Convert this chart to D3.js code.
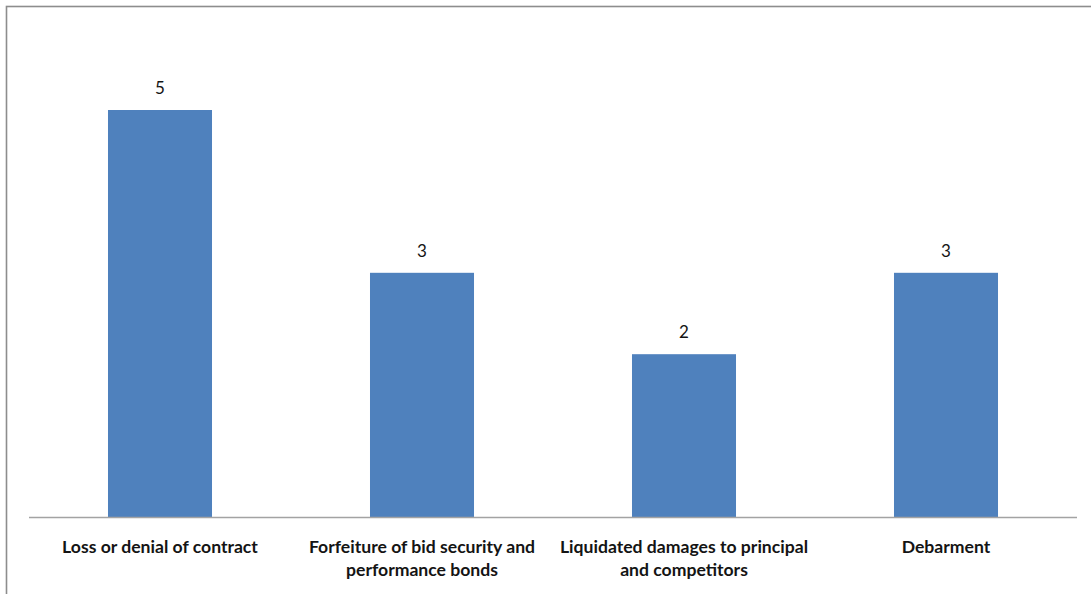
<!DOCTYPE html>
<html>
<head>
<meta charset="utf-8">
<script src="https://cdn.jsdelivr.net/npm/d3@7"></script>
<style>
  html, body { margin: 0; padding: 0; background: #fff; }
  svg { display: block; }
  .lbl { font-family: Lato, "Open Sans", sans-serif; fill: #141414; }
</style>
</head>
<body>
<svg id="chart" width="1091" height="594"></svg>
<script>
// Penalties cited, by type
const categories = [
  "Loss or denial of contract",
  "Forfeiture of bid security and performance bonds",
  "Liquidated damages to principal and competitors",
  "Debarment"
];
const counts = [5, 3, 2, 3];
const yMax = 6;

const W = 1091, H = 594;
const margin = { top: 29, right: 14, bottom: 77, left: 29 };
const svg = d3.select("#chart");

// outer frame (only top and left edges fall inside the window)
svg.append("rect")
  .attr("x", 6.5).attr("y", 6.5)
  .attr("width", W + 20).attr("height", H + 20)
  .attr("fill", "none")
  .attr("stroke", "#8d8d8d")
  .attr("stroke-width", 1.6);

const x = d3.scaleBand()
  .domain(categories)
  .range([margin.left, W - margin.right])
  .paddingInner(0.603)
  .paddingOuter(0.3015);

const y = d3.scaleLinear()
  .domain([0, yMax])
  .range([H - margin.bottom, H - margin.bottom - 81.4 * yMax]);

const data = categories.map((c, i) => ({ c, v: counts[i] }));

// bars
svg.append("g").selectAll("rect")
  .data(data)
  .join("rect")
  .attr("x", d => x(d.c))
  .attr("y", d => y(d.v))
  .attr("width", x.bandwidth())
  .attr("height", d => y(0) - y(d.v))
  .attr("fill", "#4f81bd");

// category axis
const xAxis = svg.append("g")
  .attr("transform", `translate(0,${y(0)})`)
  .call(d3.axisBottom(x).tickSize(0).tickPadding(0));
xAxis.select(".domain")
  .attr("stroke", "#a3a3a3")
  .attr("stroke-width", 1.5)
  .attr("d", `M${margin.left},0.5H${W - margin.right}`);

// wrap tick labels to the band step
function wrap(sel, width) {
  sel.each(function () {
    const text = d3.select(this);
    const words = text.text().split(/\s+/);
    text.text(null);
    let line = [];
    let tspan = text.append("tspan").attr("x", 0).attr("dy", 0);
    for (const w of words) {
      line.push(w);
      tspan.text(line.join(" "));
      if (tspan.node().getComputedTextLength() > width && line.length > 1) {
        line.pop();
        tspan.text(line.join(" "));
        line = [w];
        tspan = text.append("tspan").attr("x", 0).attr("dy", 23).text(w);
      }
    }
  });
}

xAxis.selectAll(".tick text")
  .attr("class", "lbl")
  .attr("y", 36)
  .attr("dy", 0)
  .style("font-size", "17.6px")
  .style("font-weight", "bold")
  .style("text-anchor", "middle")
  .call(wrap, x.step() - 2);

// value labels
svg.append("g").selectAll("text")
  .data(data)
  .join("text")
  .attr("class", "lbl")
  .attr("x", d => x(d.c) + x.bandwidth() / 2)
  .attr("y", d => y(d.v) - 16)
  .attr("text-anchor", "middle")
  .style("font-size", "17px")
  .text(d => d.v);
</script>
</body>
</html>
